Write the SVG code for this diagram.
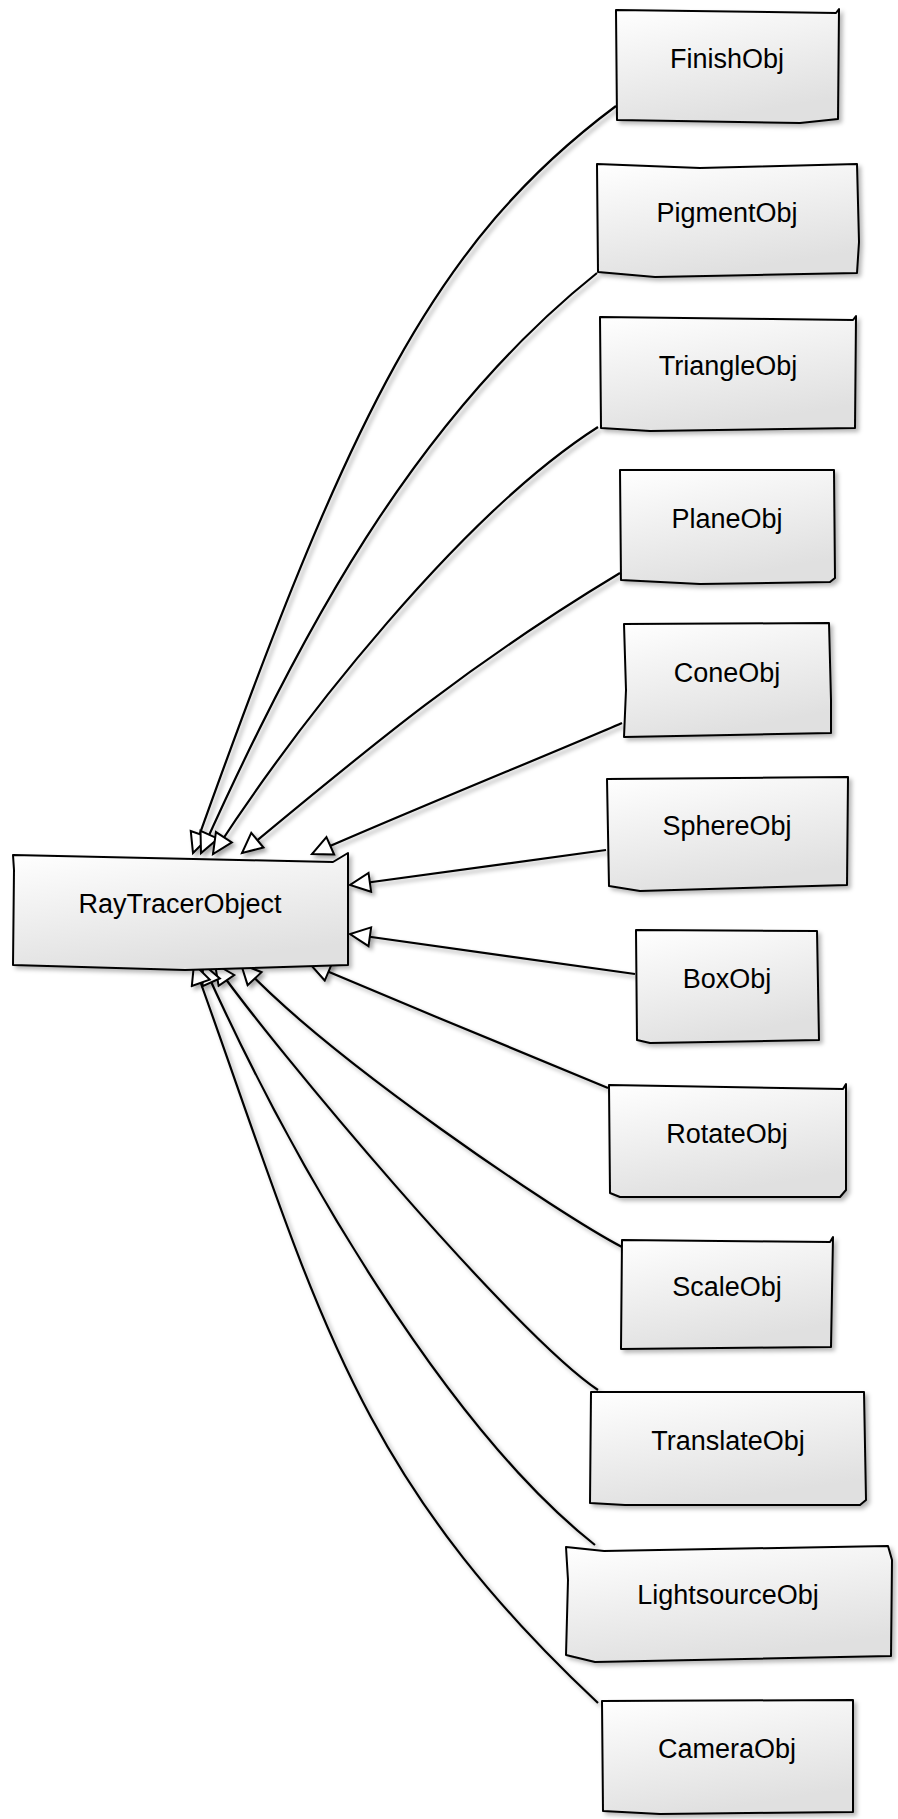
<svg xmlns="http://www.w3.org/2000/svg" width="898" height="1819" viewBox="0 0 898 1819">
<style>
.node{fill:url(#g);stroke:#000;stroke-width:2;stroke-linejoin:round;filter:url(#sh)}
.lbl{font-family:"Liberation Sans",Arial,sans-serif;font-size:27px;fill:#000;text-anchor:middle}
.edge{fill:none;stroke:#000;stroke-width:2.2;marker-end:url(#arr)}
</style>
<defs>
<linearGradient id="g" x1="0" y1="0" x2="0.35" y2="1">
<stop offset="0" stop-color="#ffffff"/>
<stop offset="1" stop-color="#e0e0e0"/>
</linearGradient>
<filter id="sh" x="-20%" y="-20%" width="140%" height="140%">
<feDropShadow dx="3" dy="3" stdDeviation="2.2" flood-color="#000" flood-opacity="0.28"/>
</filter>
<filter id="she" x="-20%" y="-20%" width="140%" height="140%">
<feDropShadow dx="3" dy="3" stdDeviation="2" flood-color="#000" flood-opacity="0.35"/>
</filter>
<marker id="arr" markerWidth="26" markerHeight="24" refX="22" refY="11" orient="auto" markerUnits="userSpaceOnUse">
<path d="M2,1.5 L22,11 L2,20.5 Z" fill="#fff" stroke="#000" stroke-width="2" stroke-linejoin="miter"/>
</marker>
</defs>
<g id="connectors" filter="url(#she)">
<path class="edge" d="M616,106 C434,242 350,412 193,853"/>
<path class="edge" d="M597,273 C413,420 297,639 201,853"/>
<path class="edge" d="M598,427 C462,514 300,720 213,854"/>
<path class="edge" d="M620,573 C472,662 374,743 242,853"/>
<path class="edge" d="M622,723 C560,750 400,815 312,854"/>
<path class="edge" d="M606,850 L350,885"/>
<path class="edge" d="M635,974 L350,934"/>
<path class="edge" d="M608,1088 C540,1060 400,1002 310,964"/>
<path class="edge" d="M622,1247 C560,1215 330,1060 241,964"/>
<path class="edge" d="M598,1390 C515,1335 272,1046 215,964"/>
<path class="edge" d="M595,1545 C448,1429 294,1167 203,964"/>
<path class="edge" d="M598,1703 C351,1471 318,1309 194,964"/>
</g>
<g id="RayTracerObject">
<path class="node" d="M13,855 L333,862 L348,853 L348,965 L185,970 L13,965 L14,870 Z"/>
<text class="lbl" x="180" y="913">RayTracerObject</text>
</g>
<g id="FinishObj">
<path class="node" d="M616,10 L836,13 L839,9 L838,119 L800,123 L617,120 Z"/>
<text class="lbl" x="727" y="68">FinishObj</text>
</g>
<g id="PigmentObj">
<path class="node" d="M597,164 L700,168 L857,164 L859,242 L857,273 L655,277 L598,272 Z"/>
<text class="lbl" x="727" y="222">PigmentObj</text>
</g>
<g id="TriangleObj">
<path class="node" d="M600,317 L853,320 L856,316 L855,428 L650,431 L601,428 Z"/>
<text class="lbl" x="728" y="375">TriangleObj</text>
</g>
<g id="PlaneObj">
<path class="node" d="M620,470 L834,470 L835,578 L830,582 L700,584 L621,580 Z"/>
<text class="lbl" x="727" y="528">PlaneObj</text>
</g>
<g id="ConeObj">
<path class="node" d="M624,624 L829,623 L831,700 L831,733 L624,737 L626,690 Z"/>
<text class="lbl" x="727" y="682">ConeObj</text>
</g>
<g id="SphereObj">
<path class="node" d="M607,779 L848,777 L847,885 L640,891 L609,886 Z"/>
<text class="lbl" x="727" y="835">SphereObj</text>
</g>
<g id="BoxObj">
<path class="node" d="M636,930 L817,931 L819,1040 L650,1043 L637,1040 Z"/>
<text class="lbl" x="727" y="988">BoxObj</text>
</g>
<g id="RotateObj">
<path class="node" d="M609,1085 L843,1089 L846,1084 L846,1190 L840,1197 L620,1197 L610,1193 Z"/>
<text class="lbl" x="727" y="1143">RotateObj</text>
</g>
<g id="ScaleObj">
<path class="node" d="M622,1240 L830,1242 L833,1237 L831,1347 L621,1349 Z"/>
<text class="lbl" x="727" y="1296">ScaleObj</text>
</g>
<g id="TranslateObj">
<path class="node" d="M591,1392 L864,1392 L866,1500 L860,1505 L625,1505 L590,1503 Z"/>
<text class="lbl" x="728" y="1450">TranslateObj</text>
</g>
<g id="LightsourceObj">
<path class="node" d="M566,1547 L604,1551 L888,1546 L892,1560 L891,1656 L595,1662 L566,1655 L568,1580 Z"/>
<text class="lbl" x="728" y="1604">LightsourceObj</text>
</g>
<g id="CameraObj">
<path class="node" d="M602,1701 L853,1700 L853,1812 L660,1814 L603,1811 Z"/>
<text class="lbl" x="727" y="1758">CameraObj</text>
</g>
</svg>
